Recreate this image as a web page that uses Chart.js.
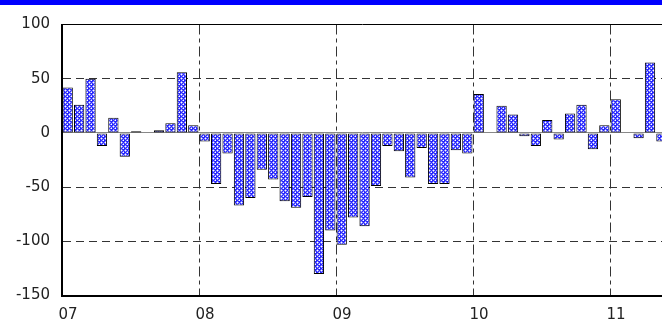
<!DOCTYPE html>
<html>
<head>
<meta charset="utf-8">
<script src="https://cdn.jsdelivr.net/npm/chart.js@4/dist/chart.umd.min.js"></script>
<style>
  html, body { margin: 0; padding: 0; background: #fff; }
  #band { width: 662px; height: 5px; background: #0000ff; }
  #wrap { position: relative; width: 662px; height: 319px; }
</style>
</head>
<body>
<div id="band"></div>
<div id="wrap"><canvas id="changeChart"></canvas></div>
<script>
// monthly change, Jan 2007 onwards (null = no bar)
var values2007 = [42, 26, 50, -12, 14, -22, 1.5, null, 2.5, 9, 56, 7];
var values2008 = [-8, -47, -19, -67, -60, -34, -43, -63, -69, -59, -130, -90];
var values2009 = [-103, -78, -86, -49, -12, -17, -41, -14, -47, -47, -16, -19];
var values2010 = [36, null, 25, 17, -3, -12, 12, -6, 18, 26, -15, 7];
var values2011 = [31, null, -5, 65, -8];
var yearLabels = ['07', '08', '09', '10', '11'];
var yTicks = [-150, -100, -50, 0, 50, 100];

var allValues = values2007.concat(values2008, values2009, values2010, values2011);

function makePattern() {
    var p = document.createElement('canvas');
    p.width = 4; p.height = 4;
    var c = p.getContext('2d');
    c.fillStyle = '#2828ff';
    c.fillRect(0, 0, 4, 4);
    c.fillStyle = '#9090ff';
    c.fillRect(1, 0, 1, 1);
    c.fillRect(0, 1, 1, 1);
    c.fillRect(2, 1, 1, 1);
    c.fillRect(1, 2, 1, 1);
    c.fillRect(3, 2, 1, 1);
    c.fillRect(2, 3, 1, 1);
    c.fillStyle = '#ffffff';
    c.fillRect(1, 1, 1, 1);
    c.fillRect(3, 3, 1, 1);
    return c.createPattern(p, 'repeat');
}

var ctx = document.getElementById('changeChart').getContext('2d');
var barData = [];
allValues.forEach(function (v, i) {
    barData.push({ x: i + 0.5, y: v });
});

var chart = new Chart(ctx, {
    type: 'bar',
    data: {
        datasets: [{
            data: barData,
            backgroundColor: makePattern(),
            borderColor: '#000',
            borderWidth: 1,
            borderSkipped: false,
            categoryPercentage: 1,
            barPercentage: 0.9
        }]
    },
    options: {
        responsive: true,
        maintainAspectRatio: false,
        animation: false,
        layout: { padding: { top: 0, right: 0, left: 0, bottom: 0 } },
        plugins: { legend: { display: false }, tooltip: { enabled: false } },
        scales: {
            x: {
                type: 'linear',
                min: 0,
                max: 52.55,
                offset: false,
                afterBuildTicks: function (scale) {
                    scale.ticks = yearLabels.map(function (l, i) { return { value: i * 12 }; });
                },
                afterFit: function (scale) { scale.height = 28.4; },
                ticks: {
                    autoSkip: false,
                    maxRotation: 0,
                    padding: 11,
                    labelOffset: 6,
                    color: '#222',
                    font: { family: 'DejaVu Sans', size: 15 },
                    callback: function (value) { return yearLabels[Math.round(value / 12)]; }
                },
                grid: {
                    offset: false,
                    drawTicks: false,
                    lineWidth: 1,
                    color: function (c) { return c.tick && c.tick.value === 0 ? 'rgba(0,0,0,0)' : '#333'; }
                },
                border: {
                    display: true,
                    color: '#000',
                    width: 2,
                    dash: function (c) { return c.tick ? [10, 4, 4, 4] : []; }
                }
            },
            y: {
                min: -150,
                max: 100,
                afterBuildTicks: function (scale) {
                    scale.ticks = yTicks.map(function (v) { return { value: v }; });
                },
                afterFit: function (scale) {
                    scale.width = 62;
                    scale.paddingTop = 19.5;
                },
                ticks: {
                    padding: 12,
                    color: '#222',
                    font: { family: 'DejaVu Sans', size: 15 }
                },
                grid: {
                    drawTicks: false,
                    lineWidth: 1,
                    color: function (c) {
                        if (!c.tick) return '#333';
                        if (c.tick.value === 0) return '#888';
                        if (c.tick.value === 100) return '#000';
                        return '#333';
                    }
                },
                border: {
                    display: true,
                    color: '#000',
                    width: 2,
                    dash: function (c) {
                        if (!c.tick) return [];
                        return (c.tick.value === 0 || c.tick.value === 100) ? [] : [8, 5];
                    }
                }
            }
        }
    }
});
</script>
</body>
</html>
